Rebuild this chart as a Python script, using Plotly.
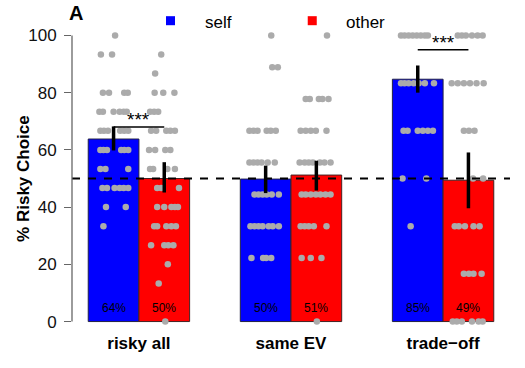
import plotly.graph_objects as go

# ---------------- data ----------------
categories = ["risky all", "same EV", "trade\u2212off"]
self_pct = [63.8, 49.8, 84.7]
other_pct = [50.0, 51.2, 49.4]
self_err_lo = [59.8, 44.9, 80.0]
self_err_hi = [68.2, 54.5, 89.5]
other_err_lo = [45.1, 45.8, 39.6]
other_err_hi = [55.7, 56.2, 59.1]
sig_groups = [0, 2]
sig_level = [68.0, 95.0]
sig_text = ["***", "***"]
chance_level = 50

# individual participants (value, horizontal jitter in bar widths)
risky_self_vals = [100, 93.3, 93.3, 80, 80, 80, 80, 73.3, 73.3, 73.3, 73.3, 73.3, 73.3,
                   66.7, 66.7, 66.7, 66.7, 66.7, 66.7, 60, 60, 60, 60, 60, 60, 53.3, 53.3, 53.3,
                   46.7, 46.7, 46.7, 46.7, 46.7, 46.7, 40, 40, 33.3]
risky_self_jit = [0.03, -0.25, -0.03, -0.21, -0.09, 0.21, 0.28, -0.28, -0.21, 0.0, 0.12, 0.2, 0.26,
                  -0.26, -0.19, -0.11, 0.13, 0.21, 0.29, -0.26, -0.2, -0.13, 0.15, 0.21, 0.29, -0.26, -0.16, 0.29,
                  -0.22, -0.13, 0.02, 0.12, 0.2, 0.29, -0.15, 0.24, -0.2]
risky_other_vals = [93.3, 86.7, 80, 80, 80, 73.3, 73.3, 73.3, 66.7, 66.7, 66.7, 66.7, 66.7,
                    60, 60, 60, 60, 53.3, 53.3, 53.3, 53.3, 46.7, 46.7, 46.7, 40, 40, 40, 40, 40,
                    33.3, 33.3, 33.3, 33.3, 33.3, 26.7, 26.7, 26.7, 26.7, 20, 13.3, 0]
risky_other_jit = [-0.06, -0.18, -0.19, -0.02, 0.2, -0.28, -0.2, -0.12, -0.26, -0.16, 0.04, 0.12, 0.21,
                   -0.3, -0.18, 0.02, 0.12, -0.28, -0.22, 0.06, 0.21, -0.14, -0.06, 0.29, -0.14, 0.0, 0.14, 0.21, 0.27,
                   -0.2, -0.14, 0.04, 0.14, 0.23, -0.26, 0.0, 0.08, 0.18, 0.07, -0.11, 0.02]
same_self_vals = [100, 88.9, 88.9, 66.7, 66.7, 66.7, 66.7, 66.7, 66.7, 55.6, 55.6, 55.6, 55.6, 55.6, 55.6,
                  44.4, 44.4, 44.4, 44.4, 44.4, 44.4, 33.3, 33.3, 33.3, 33.3, 33.3, 33.3, 33.3,
                  22.2, 22.2, 22.2, 22.2]
same_self_jit = [0.11, 0.13, 0.24, -0.32, -0.24, -0.16, 0.02, 0.1, 0.2, -0.32, -0.24, -0.16, -0.08, 0.04, 0.18,
                 -0.22, -0.14, -0.06, 0.02, 0.12, 0.26, -0.3, -0.22, -0.14, -0.06, 0.06, 0.14, 0.26,
                 -0.28, -0.05, 0.01, 0.11]
same_other_vals = [100, 77.8, 77.8, 77.8, 77.8, 77.8, 66.7, 66.7, 66.7, 66.7, 66.7,
                   55.6, 55.6, 55.6, 55.6, 55.6, 55.6, 55.6, 44.4, 44.4, 44.4, 44.4, 44.4, 44.4, 44.4,
                   33.3, 33.3, 33.3, 33.3, 33.3, 22.2, 22.2, 22.2, 0]
same_other_jit = [0.21, -0.21, -0.13, 0.05, 0.12, 0.24, -0.31, -0.21, -0.11, -0.01, 0.2,
                  -0.33, -0.23, -0.15, -0.07, 0.07, 0.16, 0.28, -0.29, -0.21, -0.11, -0.01, 0.08, 0.18, 0.28,
                  -0.31, -0.23, -0.15, -0.05, 0.2, -0.29, -0.11, 0.1, 0.01]
trade_self_vals = [100, 100, 100, 100, 100, 100, 100, 100, 83.3, 83.3, 83.3, 83.3, 83.3, 83.3, 83.3,
                   66.7, 66.7, 66.7, 66.7, 66.7, 66.7, 50, 50, 33.3]
trade_self_jit = [-0.33, -0.26, -0.18, -0.1, -0.02, 0.06, 0.14, 0.2, -0.33, -0.26, -0.18, -0.08, 0.02, 0.14, 0.32,
                  -0.28, -0.2, 0.0, 0.1, 0.2, 0.3, -0.3, 0.17, -0.14]
trade_other_vals = [100, 100, 100, 100, 100, 100, 83.3, 83.3, 83.3, 83.3, 83.3, 83.3, 66.7, 66.7, 66.7,
                    50, 50, 33.3, 33.3, 33.3, 33.3, 33.3, 16.7, 16.7, 16.7, 16.7, 0, 0, 0, 0, 0, 0]
trade_other_jit = [-0.21, -0.13, -0.05, 0.07, 0.18, 0.28, -0.33, -0.21, -0.09, 0.03, 0.16, 0.3, -0.09, 0.01, 0.12,
                   0.09, 0.29, -0.27, -0.19, -0.07, 0.1, 0.22, -0.09, 0.01, 0.1, 0.26, -0.31, -0.23, -0.13, 0.07, 0.2, 0.28]

self_points = [(risky_self_vals, risky_self_jit), (same_self_vals, same_self_jit), (trade_self_vals, trade_self_jit)]
other_points = [(risky_other_vals, risky_other_jit), (same_other_vals, same_other_jit), (trade_other_vals, trade_other_jit)]

# ---------------- figure ----------------
FONT = "Liberation Sans, Arial, Helvetica, sans-serif"
BLUE = "#0000FF"
RED = "#FF0000"
GRAY = "#ABABAB"

n = len(categories)
x_self = [3 * i for i in range(n)]
x_other = [3 * i + 1 for i in range(n)]

fig = go.Figure()
fig.add_trace(go.Bar(x=x_self, y=self_pct, width=1, marker=dict(color=BLUE, line=dict(color="#222244", width=1)), name="self"))
fig.add_trace(go.Bar(x=x_other, y=other_pct, width=1, marker=dict(color=RED, line=dict(color="#442222", width=1)), name="other"))

px, py = [], []
for i in range(n):
    for (vals, jit), base in ((self_points[i], x_self[i]), (other_points[i], x_other[i])):
        for v, j in zip(vals, jit):
            px.append(base + j)
            py.append(v)
fig.add_trace(go.Scatter(x=px, y=py, mode="markers", marker=dict(color=GRAY, size=6.5, line=dict(width=0)),
                         cliponaxis=False, hoverinfo="skip"))

ex, ey = [], []
for i in range(n):
    ex += [x_self[i], x_self[i], None, x_other[i], x_other[i], None]
    ey += [self_err_lo[i], self_err_hi[i], None, other_err_lo[i], other_err_hi[i], None]
fig.add_trace(go.Scatter(x=ex, y=ey, mode="lines", line=dict(color="black", width=3.5), hoverinfo="skip"))

shapes = []
# chance line
shapes.append(dict(type="line", xref="paper", yref="y", x0=0, x1=1, y0=chance_level, y1=chance_level,
                   line=dict(color="black", width=2.2, dash="8px,8px"), layer="above"))
# y axis line (0-100)
shapes.append(dict(type="line", xref="paper", yref="y", x0=0, x1=0, y0=0, y1=100,
                   line=dict(color="#666666", width=1.3), layer="above"))
annotations = []
for g, lvl, t in zip(sig_groups, sig_level, sig_text):
    shapes.append(dict(type="line", xref="x", yref="y", x0=x_self[g], x1=x_other[g], y0=lvl, y1=lvl,
                       line=dict(color="black", width=1.6), layer="above"))
    annotations.append(dict(x=(x_self[g] + x_other[g]) / 2, y=lvl + 2.5, xref="x", yref="y", text=t,
                            showarrow=False, font=dict(family=FONT, size=19, color="black"), yanchor="middle"))

# percentage labels inside bars
for i in range(n):
    for xx, v in ((x_self[i], self_pct[i]), (x_other[i], other_pct[i])):
        annotations.append(dict(x=xx, y=4.7, xref="x", yref="y", text=f"{round(v)}%", showarrow=False,
                                font=dict(family=FONT, size=12, color="black"), yanchor="middle"))

# legend (manual)
for x0, col, lab in ((0.2146, BLUE, "self"), (0.5382, RED, "other")):
    shapes.append(dict(type="rect", xref="paper", yref="paper", x0=x0, x1=x0 + 0.0206, y0=0.9961, y1=1.0253,
                       fillcolor=col, line=dict(width=0)))
    annotations.append(dict(x=x0 + 0.0838, y=1.006, xref="paper", yref="paper", text=lab, showarrow=False,
                            xanchor="left", yanchor="middle", font=dict(family=FONT, size=17, color="black")))

# panel letter
annotations.append(dict(x=0.0084, y=1.036, xref="paper", yref="paper", text="<b>A</b>", showarrow=False,
                        xanchor="center", yanchor="middle", font=dict(family=FONT, size=20, color="black")))
# y title
annotations.append(dict(x=-0.111, y=0.5, xref="paper", yref="paper", text="<b>% Risky Choice</b>", showarrow=False,
                        textangle=-90, xanchor="center", yanchor="middle", font=dict(family=FONT, size=17, color="black")))

fig.update_layout(width=525, height=368, margin=dict(l=72, r=15, t=24, b=35, pad=0),
                  plot_bgcolor="white", paper_bgcolor="white", showlegend=False, barmode="overlay",
                  shapes=shapes, annotations=annotations, font=dict(family=FONT))
fig.update_xaxes(range=[-0.82, 7.82], tickvals=[3 * i + 0.5 for i in range(n)], ticktext=categories,
                 showgrid=False, zeroline=False, showline=False, ticks="",
                 tickfont=dict(family=FONT, size=17, color="black", weight="bold"), ticklabelstandoff=-2)
fig.update_yaxes(range=[-4, 104], tickvals=[0, 20, 40, 60, 80, 100], ticks="outside", ticklen=7,
                 tickcolor="#666666", tickwidth=1.3, showgrid=False, zeroline=False, showline=False,
                 tickfont=dict(family=FONT, size=17, color="#111111"), ticklabelstandoff=4)

fig.write_html("out.html", config={"displayModeBar": False},
               post_script="document.body.style.margin='0';document.body.style.padding='0';")
